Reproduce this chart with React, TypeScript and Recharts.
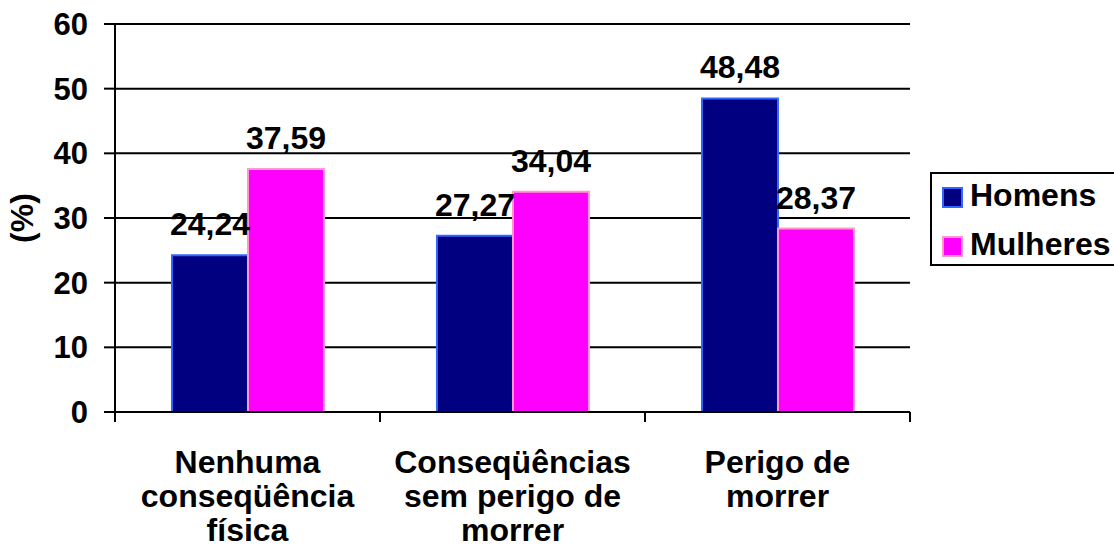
import React from "react";
import { BarChart, Bar, XAxis, YAxis, CartesianGrid, LabelList, Label } from "recharts";

const categories = ["Nenhuma\nconseqüência\nfísica", "Conseqüências\nsem perigo de\nmorrer", "Perigo de\nmorrer"];
const homens = [24.24, 27.27, 48.48];
const mulheres = [37.59, 34.04, 28.37];
const yTicks = [0, 10, 20, 30, 40, 50, 60];
const seriesNames = ["Homens", "Mulheres"];
const seriesFill = ["#000080", "#FF00FF"];
const seriesStroke = ["#3366FF", "#FF99CC"];

const data = categories.map((c, i) => ({ cat: c, homens: homens[i], mulheres: mulheres[i] }));

const FONT = "'Liberation Sans', Arial, Helvetica, sans-serif";

const fmt = (v: any) => Number(v).toFixed(2).replace(".", ",");

const CatTick = (props: any) => {
  const { x, y, payload, index, visibleTicksCount } = props;
  const lines = String(payload.value).split("\n");
  const half = payload.offset || 0;
  const isLast = index === (visibleTicksCount ?? categories.length) - 1;
  return (
    <g>
      <line x1={x - half} x2={x - half} y1={y} y2={y + 10} stroke="#000" strokeWidth={2} />
      {isLast && <line x1={x + half} x2={x + half} y1={y} y2={y + 10} stroke="#000" strokeWidth={2} />}
      <text x={x} y={y} textAnchor="middle" fontFamily={FONT} fontWeight="bold" fontSize={32} fill="#000">
        {lines.map((l, i) => (
          <tspan key={i} x={x} dy={i === 0 ? 61 : 34}>
            {l}
          </tspan>
        ))}
      </text>
    </g>
  );
};

export default function App() {
  return (
    <div style={{ position: "absolute", left: 0, top: 0, width: 1114, height: 556, background: "#fff", overflow: "hidden" }}>
      <BarChart
        width={1114}
        height={556}
        data={data}
        margin={{ top: 24, right: 204, bottom: 0, left: 0 }}
        barCategoryGap="21.5%"
        barGap={0}
      >
        <CartesianGrid horizontal vertical={false} stroke="#000" strokeWidth={2} />
        <XAxis
          dataKey="cat"
          height={144}
          axisLine={{ stroke: "#000", strokeWidth: 2 }}
          tickLine={false}
          tickSize={0}
          tickMargin={0}
          interval={0}
          tick={<CatTick />}
        />
        <YAxis
          width={115}
          domain={[0, 60]}
          ticks={yTicks}
          interval={0}
          axisLine={{ stroke: "#000", strokeWidth: 2 }}
          tickLine={{ stroke: "#000", strokeWidth: 2 }}
          tickSize={11}
          tickMargin={16}
          tick={{ fontFamily: FONT, fontWeight: "bold", fontSize: 31, fill: "#000" }}
        >
          <Label
            content={(p: any) => {
              const vb = p.viewBox;
              const cy = vb.y + vb.height / 2;
              return (
                <text
                  x={22}
                  y={cy}
                  transform={`rotate(-90 22 ${cy})`}
                  textAnchor="middle"
                  dominantBaseline="central"
                  fontFamily={FONT}
                  fontWeight="bold"
                  fontSize={32}
                  fill="#000"
                >
                  (%)
                </text>
              );
            }}
          />
        </YAxis>
        <Bar dataKey="homens" name={seriesNames[0]} fill={seriesFill[0]} stroke={seriesStroke[0]} strokeWidth={2} isAnimationActive={false}>
          <LabelList dataKey="homens" position="top" offset={20} formatter={fmt} fill="#000" fontFamily={FONT} fontWeight="bold" fontSize={32} />
        </Bar>
        <Bar dataKey="mulheres" name={seriesNames[1]} fill={seriesFill[1]} stroke={seriesStroke[1]} strokeWidth={2} isAnimationActive={false}>
          <LabelList dataKey="mulheres" position="top" offset={20} formatter={fmt} fill="#000" fontFamily={FONT} fontWeight="bold" fontSize={32} />
        </Bar>
      </BarChart>
      <div
        style={{
          position: "absolute",
          left: 930,
          top: 172,
          width: 190,
          height: 90,
          border: "2px solid #000",
          boxSizing: "content-box",
          fontFamily: FONT,
          fontWeight: "bold",
          fontSize: 32,
          color: "#000",
        }}
      >
        {seriesNames.map((n, i) => (
          <div key={n} style={{ position: "absolute", left: 0, top: i * 48.5, height: 48, width: 190 }}>
            <div
              style={{
                position: "absolute",
                left: 10,
                top: 13,
                width: 17,
                height: 17,
                background: seriesFill[i],
                border: `2px solid ${seriesStroke[i]}`,
              }}
            />
            <span style={{ position: "absolute", left: 38, top: 0, lineHeight: "42px", whiteSpace: "nowrap" }}>{n}</span>
          </div>
        ))}
      </div>
    </div>
  );
}
